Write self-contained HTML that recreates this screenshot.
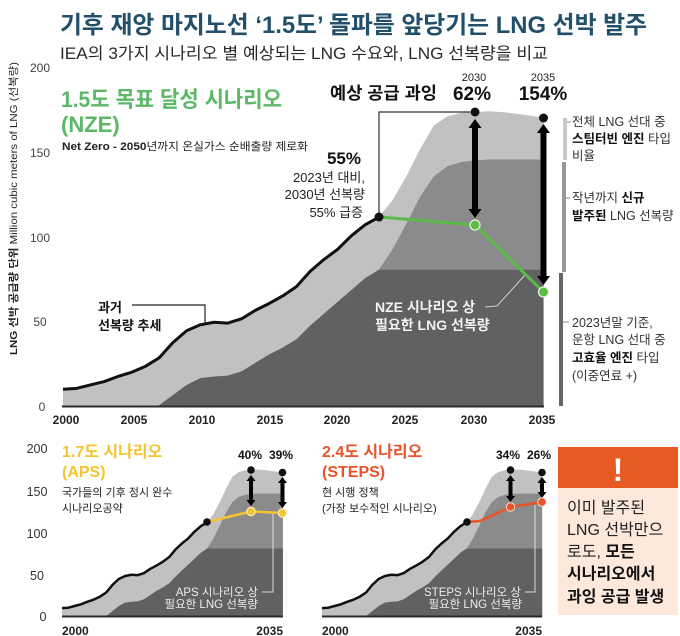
<!DOCTYPE html>
<html><head><meta charset="utf-8"><style>
html,body{margin:0;padding:0;background:#fff;}
svg{display:block;}
text{font-family:"Liberation Sans","Noto Sans CJK KR",sans-serif;}
</style></head><body>
<svg width="680" height="636" viewBox="0 0 680 636" xmlns="http://www.w3.org/2000/svg">
<rect width="680" height="636" fill="#fff"/>

<!-- Title -->
<text x="60" y="33" font-size="24" font-weight="bold" fill="#22506b" textLength="587" lengthAdjust="spacingAndGlyphs">기후 재앙 마지노선 ‘1.5도’ 돌파를 앞당기는 LNG 선박 발주</text>
<text x="60" y="59" font-size="16.5" fill="#2a2a2a" textLength="488" lengthAdjust="spacingAndGlyphs">IEA의 3가지 시나리오 별 예상되는 LNG 수요와, LNG 선복량을 비교</text>

<!-- Y axis title -->
<text transform="translate(17,355) rotate(-90)" font-size="10.5" fill="#222" textLength="293" lengthAdjust="spacingAndGlyphs"><tspan font-weight="bold">LNG 선박 공급량 단위</tspan> Million cubic meters of LNG (선복량)</text>

<!-- Main y tick labels -->
<g font-size="12" fill="#444" text-anchor="middle">
<text x="40" y="72">200</text>
<text x="40" y="157">150</text>
<text x="40" y="242">100</text>
<text x="40" y="326">50</text>
<text x="42" y="411">0</text>
</g>

<!-- MAIN CHART AREAS -->
<g transform="translate(63,407) scale(13.73,-1.695)">
<path fill="#c1c1c1" d="M0,0 L0,10.5 L1,11 L2,13 L3,15 L4,18 L5,20.5 L6,24 L7,29 L8,38 L9,45 L10,48.5 L11,50 L12,49.5 L13,52 L14,57 L15,61 L16,65.5 L17,71 L18,80 L19,87 L20,93 L21,101 L22,107.5 L23,112 L24,122 L25,136 L26,152 L27,166 L28,171.5 L29,173.5 L30,174 L31,174.5 L32,174 L33,173 L34,172 L35,170.5 L35,0 Z"/>
<path fill="#8b8b8b" d="M23,0 L23,81 L24,93 L25,108 L26,124 L27,136 L28,142 L29,144.5 L30,145.5 L31,146 L35,146 L35,0 Z"/>
<path fill="#616161" d="M0,0 L6.5,0 L7,1 L8,7 L9,13 L10,17 L11,18 L12,18.5 L13,21 L14,26 L15,31 L16,35 L17,40 L18,48 L19,55 L20,62 L21,69 L22,76 L23,81 L35,81 L35,0 Z"/>
<path fill="none" stroke="#111" stroke-width="3" vector-effect="non-scaling-stroke" stroke-linejoin="round" d="M0,10.5 L1,11 L2,13 L3,15 L4,18 L5,20.5 L6,24 L7,29 L8,38 L9,45 L10,48.5 L11,50 L12,49.5 L13,52 L14,57 L15,61 L16,65.5 L17,71 L18,80 L19,87 L20,93 L21,101 L22,107.5 L23,112"/>
</g>
<line x1="62" y1="406.5" x2="544" y2="406.5" stroke="#2a2a2a" stroke-width="2"/>

<!-- Main x labels -->
<g font-size="12" font-weight="bold" fill="#222" text-anchor="middle">
<text x="66" y="424">2000</text>
<text x="134" y="424">2005</text>
<text x="202" y="424">2010</text>
<text x="270" y="424">2015</text>
<text x="337" y="424">2020</text>
<text x="405" y="424">2025</text>
<text x="474" y="424">2030</text>
<text x="542" y="424">2035</text>
</g>

<!-- NZE title -->
<text x="61" y="107" font-size="22" font-weight="bold" fill="#5cb867" textLength="221" lengthAdjust="spacingAndGlyphs">1.5도 목표 달성 시나리오</text>
<text x="61" y="132" font-size="22" font-weight="bold" fill="#5cb867">(NZE)</text>
<text x="62" y="150" font-size="11" fill="#222" textLength="246" lengthAdjust="spacingAndGlyphs"><tspan font-weight="bold">Net Zero - 2050</tspan>년까지 온실가스 순배출량 제로화</text>

<!-- 55% annotation -->
<text x="361" y="164" font-size="17" font-weight="bold" fill="#111" text-anchor="end">55%</text>
<g font-size="13" fill="#222" text-anchor="end">
<text x="365" y="182">2023년 대비,</text>
<text x="365" y="199">2030년 선복량</text>
<text x="363" y="217">55% 급증</text>
</g>

<!-- bracket -->
<polyline points="379,217 379,112 470,112" fill="none" stroke="#333" stroke-width="1.2"/>

<!-- header labels -->
<text x="330" y="99" font-size="17" font-weight="bold" fill="#111" textLength="107" lengthAdjust="spacingAndGlyphs">예상 공급 과잉</text>
<text x="474" y="81" font-size="11" fill="#222" text-anchor="middle">2030</text>
<text x="472" y="100" font-size="19" font-weight="bold" fill="#111" text-anchor="middle">62%</text>
<text x="543" y="81" font-size="11" fill="#222" text-anchor="middle">2035</text>
<text x="543" y="100" font-size="19" font-weight="bold" fill="#111" text-anchor="middle">154%</text>

<!-- 과거 선복량 추세 -->
<text x="98" y="312" font-size="13" font-weight="bold" fill="#111">과거</text>
<text x="98" y="330" font-size="13" font-weight="bold" fill="#111">선복량 추세</text>
<polyline points="132,305 205,305 205,323" fill="none" stroke="#222" stroke-width="1.2"/>

<!-- NZE inner label -->
<text x="375" y="312" font-size="14" font-weight="bold" fill="#f2f2f2">NZE 시나리오 상</text>
<text x="375" y="330" font-size="14" font-weight="bold" fill="#f2f2f2">필요한 LNG 선복량</text>
<polyline points="485,307 497,306 525,275" fill="none" stroke="#cfcfcf" stroke-width="1"/>

<!-- arrows main -->
<polygon fill="#000" points="475,119 481.5,128 478,128 478,209 481.5,209 475,218 468.5,209 472,209 472,128 468.5,128"/>
<polygon fill="#000" points="543.5,124 550,133 546.5,133 546.5,276 550,276 543.5,285 537,276 540.5,276 540.5,133 537,133"/>

<!-- green line -->
<polyline points="379,217 475,225 543.5,292" fill="none" stroke="#5cba46" stroke-width="3" stroke-linejoin="round"/>
<circle cx="379" cy="217" r="4.5" fill="#111"/>
<circle cx="475" cy="112" r="4.5" fill="#111"/>
<circle cx="543.5" cy="118" r="4.5" fill="#111"/>
<circle cx="475" cy="225" r="5" fill="#5cba46" stroke="#e3f3dc" stroke-width="1.3"/>
<circle cx="543.5" cy="292" r="5" fill="#5cba46" stroke="#e3f3dc" stroke-width="1.3"/>

<!-- right side bars -->
<rect x="563" y="118" width="4" height="42" fill="#c8c8c8"/>
<rect x="562" y="162" width="4" height="110" fill="#999"/>
<rect x="559" y="273" width="4" height="133" fill="#666"/>
<line x1="567" y1="122" x2="571" y2="122" stroke="#888" stroke-width="1"/>
<line x1="566" y1="198" x2="570" y2="198" stroke="#888" stroke-width="1"/>
<line x1="563" y1="322" x2="569" y2="322" stroke="#888" stroke-width="1"/>
<g font-size="12.5" fill="#333">
<text x="572" y="126">전체 LNG 선대 중</text>
<text x="572" y="143"><tspan font-weight="bold" fill="#111">스팀터빈 엔진</tspan> 타입</text>
<text x="572" y="160">비율</text>
<text x="572" y="202">작년까지 <tspan font-weight="bold" fill="#111">신규</tspan></text>
<text x="572" y="220"><tspan font-weight="bold" fill="#111">발주된</tspan> LNG 선복량</text>
<text x="572" y="327">2023년말 기준,</text>
<text x="572" y="344">운항 LNG 선대 중</text>
<text x="572" y="362"><tspan font-weight="bold" fill="#111">고효율 엔진</tspan> 타입</text>
<text x="572" y="380">(이중연료 +)</text>
</g>

<!-- ============ BOTTOM LEFT (APS) ============ -->
<g font-size="12.5" fill="#333" text-anchor="middle">
<text x="37" y="453">200</text>
<text x="37" y="496">150</text>
<text x="37" y="538">100</text>
<text x="37" y="580">50</text>
<text x="43" y="621">0</text>
</g>
<g transform="translate(62,617) scale(6.31,-0.845)">
<path fill="#c1c1c1" d="M0,0 L0,10.5 L1,11 L2,13 L3,15 L4,18 L5,20.5 L6,24 L7,29 L8,38 L9,45 L10,48.5 L11,50 L12,49.5 L13,52 L14,57 L15,61 L16,65.5 L17,71 L18,80 L19,87 L20,93 L21,101 L22,107.5 L23,112 L24,122 L25,136 L26,152 L27,166 L28,171.5 L29,173.5 L30,174 L31,174.5 L32,174 L33,173 L34,172 L35,170.5 L35,0 Z"/>
<path fill="#8b8b8b" d="M23,0 L23,81 L24,93 L25,108 L26,124 L27,136 L28,142 L29,144.5 L30,145.5 L31,146 L35,146 L35,0 Z"/>
<path fill="#616161" d="M0,0 L6.5,0 L7,1 L8,7 L9,13 L10,17 L11,18 L12,18.5 L13,21 L14,26 L15,31 L16,35 L17,40 L18,48 L19,55 L20,62 L21,69 L22,76 L23,81 L35,81 L35,0 Z"/>
<path fill="none" stroke="#111" stroke-width="2.5" vector-effect="non-scaling-stroke" stroke-linejoin="round" d="M0,10.5 L1,11 L2,13 L3,15 L4,18 L5,20.5 L6,24 L7,29 L8,38 L9,45 L10,48.5 L11,50 L12,49.5 L13,52 L14,57 L15,61 L16,65.5 L17,71 L18,80 L19,87 L20,93 L21,101 L22,107.5 L23,112"/>
</g>
<line x1="62" y1="616.5" x2="283" y2="616.5" stroke="#2a2a2a" stroke-width="2"/>
<text x="62" y="635" font-size="12" font-weight="bold" fill="#222">2000</text>
<text x="283" y="635" font-size="12" font-weight="bold" fill="#222" text-anchor="end">2035</text>

<text x="62" y="457" font-size="16" font-weight="bold" fill="#f4c430">1.7도 시나리오</text>
<text x="62" y="477" font-size="16" font-weight="bold" fill="#f4c430">(APS)</text>
<text x="62" y="496" font-size="11" fill="#222">국가들의 기후 정시 완수</text>
<text x="62" y="512" font-size="11" fill="#222">시나리오공약</text>

<text x="250" y="459" font-size="12" font-weight="bold" fill="#111" text-anchor="middle">40%</text>
<text x="281" y="459" font-size="12" font-weight="bold" fill="#111" text-anchor="middle">39%</text>

<text x="258" y="596" font-size="11.5" fill="#ececec" text-anchor="end">APS 시나리오 상</text>
<text x="258" y="608" font-size="11.5" fill="#ececec" text-anchor="end">필요한 LNG 선복량</text>
<polyline points="262,592 273,592 273,513" fill="none" stroke="#dcdcdc" stroke-width="1"/>

<polygon fill="#000" points="251,475 255.5,481 253,481 253,500 255.5,500 251,506 246.5,500 249,500 249,481 246.5,481"/>
<polygon fill="#000" points="282.5,477 287,483 284.5,483 284.5,502 287,502 282.5,508 278,502 280.5,502 280.5,483 278,483"/>
<polyline points="207,522 251,511.5 282.5,513" fill="none" stroke="#f4c430" stroke-width="2.5" stroke-linejoin="round"/>
<circle cx="207" cy="522" r="3.8" fill="#111"/>
<circle cx="251" cy="470" r="3.8" fill="#111"/>
<circle cx="282.5" cy="472.5" r="3.8" fill="#111"/>
<circle cx="251" cy="511.5" r="4.2" fill="#f4c430" stroke="#fff3c8" stroke-width="1"/>
<circle cx="282.5" cy="513" r="4.2" fill="#f4c430" stroke="#fff3c8" stroke-width="1"/>

<!-- ============ BOTTOM MIDDLE (STEPS) ============ -->
<g transform="translate(322,617) scale(6.29,-0.845)">
<path fill="#c1c1c1" d="M0,0 L0,10.5 L1,11 L2,13 L3,15 L4,18 L5,20.5 L6,24 L7,29 L8,38 L9,45 L10,48.5 L11,50 L12,49.5 L13,52 L14,57 L15,61 L16,65.5 L17,71 L18,80 L19,87 L20,93 L21,101 L22,107.5 L23,112 L24,122 L25,136 L26,152 L27,166 L28,171.5 L29,173.5 L30,174 L31,174.5 L32,174 L33,173 L34,172 L35,170.5 L35,0 Z"/>
<path fill="#8b8b8b" d="M23,0 L23,81 L24,93 L25,108 L26,124 L27,136 L28,142 L29,144.5 L30,145.5 L31,146 L35,146 L35,0 Z"/>
<path fill="#616161" d="M0,0 L6.5,0 L7,1 L8,7 L9,13 L10,17 L11,18 L12,18.5 L13,21 L14,26 L15,31 L16,35 L17,40 L18,48 L19,55 L20,62 L21,69 L22,76 L23,81 L35,81 L35,0 Z"/>
<path fill="none" stroke="#111" stroke-width="2.5" vector-effect="non-scaling-stroke" stroke-linejoin="round" d="M0,10.5 L1,11 L2,13 L3,15 L4,18 L5,20.5 L6,24 L7,29 L8,38 L9,45 L10,48.5 L11,50 L12,49.5 L13,52 L14,57 L15,61 L16,65.5 L17,71 L18,80 L19,87 L20,93 L21,101 L22,107.5 L23,112"/>
</g>
<line x1="322" y1="616.5" x2="542" y2="616.5" stroke="#2a2a2a" stroke-width="2"/>
<text x="322" y="635" font-size="12" font-weight="bold" fill="#222">2000</text>
<text x="542" y="635" font-size="12" font-weight="bold" fill="#222" text-anchor="end">2035</text>

<text x="322" y="457" font-size="16" font-weight="bold" fill="#e8532b">2.4도 시나리오</text>
<text x="322" y="477" font-size="16" font-weight="bold" fill="#e8532b">(STEPS)</text>
<text x="322" y="496" font-size="11" fill="#222">현 시행 정책</text>
<text x="322" y="512" font-size="11" fill="#222">(가장 보수적인 시나리오)</text>

<text x="508" y="459" font-size="12" font-weight="bold" fill="#111" text-anchor="middle">34%</text>
<text x="539" y="459" font-size="12" font-weight="bold" fill="#111" text-anchor="middle">26%</text>

<text x="521" y="596" font-size="11.5" fill="#ececec" text-anchor="end">STEPS 시나리오 상</text>
<text x="522" y="608" font-size="11.5" fill="#ececec" text-anchor="end">필요한 LNG 선복량</text>
<polyline points="525,592 535,592 535,505" fill="none" stroke="#dcdcdc" stroke-width="1"/>

<polygon fill="#000" points="510.5,475 515,481 512.5,481 512.5,496 515,496 510.5,502 506,496 508.5,496 508.5,481 506,481"/>
<polygon fill="#000" points="542,477 546.5,483 544,483 544,492 546.5,492 542,498 537.5,492 540,492 540,483 537.5,483"/>
<polyline points="467,522 480,521 510.5,507 542,502" fill="none" stroke="#e8532b" stroke-width="2.5" stroke-linejoin="round"/>
<circle cx="467" cy="522" r="3.8" fill="#111"/>
<circle cx="510.5" cy="470" r="3.8" fill="#111"/>
<circle cx="542" cy="472.5" r="3.8" fill="#111"/>
<circle cx="510.5" cy="507" r="4.2" fill="#e8532b" stroke="#ffd9cc" stroke-width="1"/>
<circle cx="542" cy="502" r="4.2" fill="#e8532b" stroke="#ffd9cc" stroke-width="1"/>

<!-- ============ RIGHT BOX ============ -->
<rect x="558" y="447" width="120" height="41" fill="#e85a24"/>
<rect x="558" y="488" width="120" height="127" fill="#fde8dc"/>
<text x="618" y="481" font-size="32" font-weight="bold" fill="#fff" text-anchor="middle">!</text>
<g font-size="16" fill="#222">
<text x="567" y="513">이미 발주된</text>
<text x="567" y="535">LNG 선박만으</text>
<text x="567" y="557">로도, <tspan font-weight="bold" fill="#111">모든</tspan></text>
<text x="567" y="579" font-weight="bold" fill="#111">시나리오에서</text>
<text x="567" y="602" font-weight="bold" fill="#111">과잉 공급 발생</text>
</g>
</svg>
</body></html>
